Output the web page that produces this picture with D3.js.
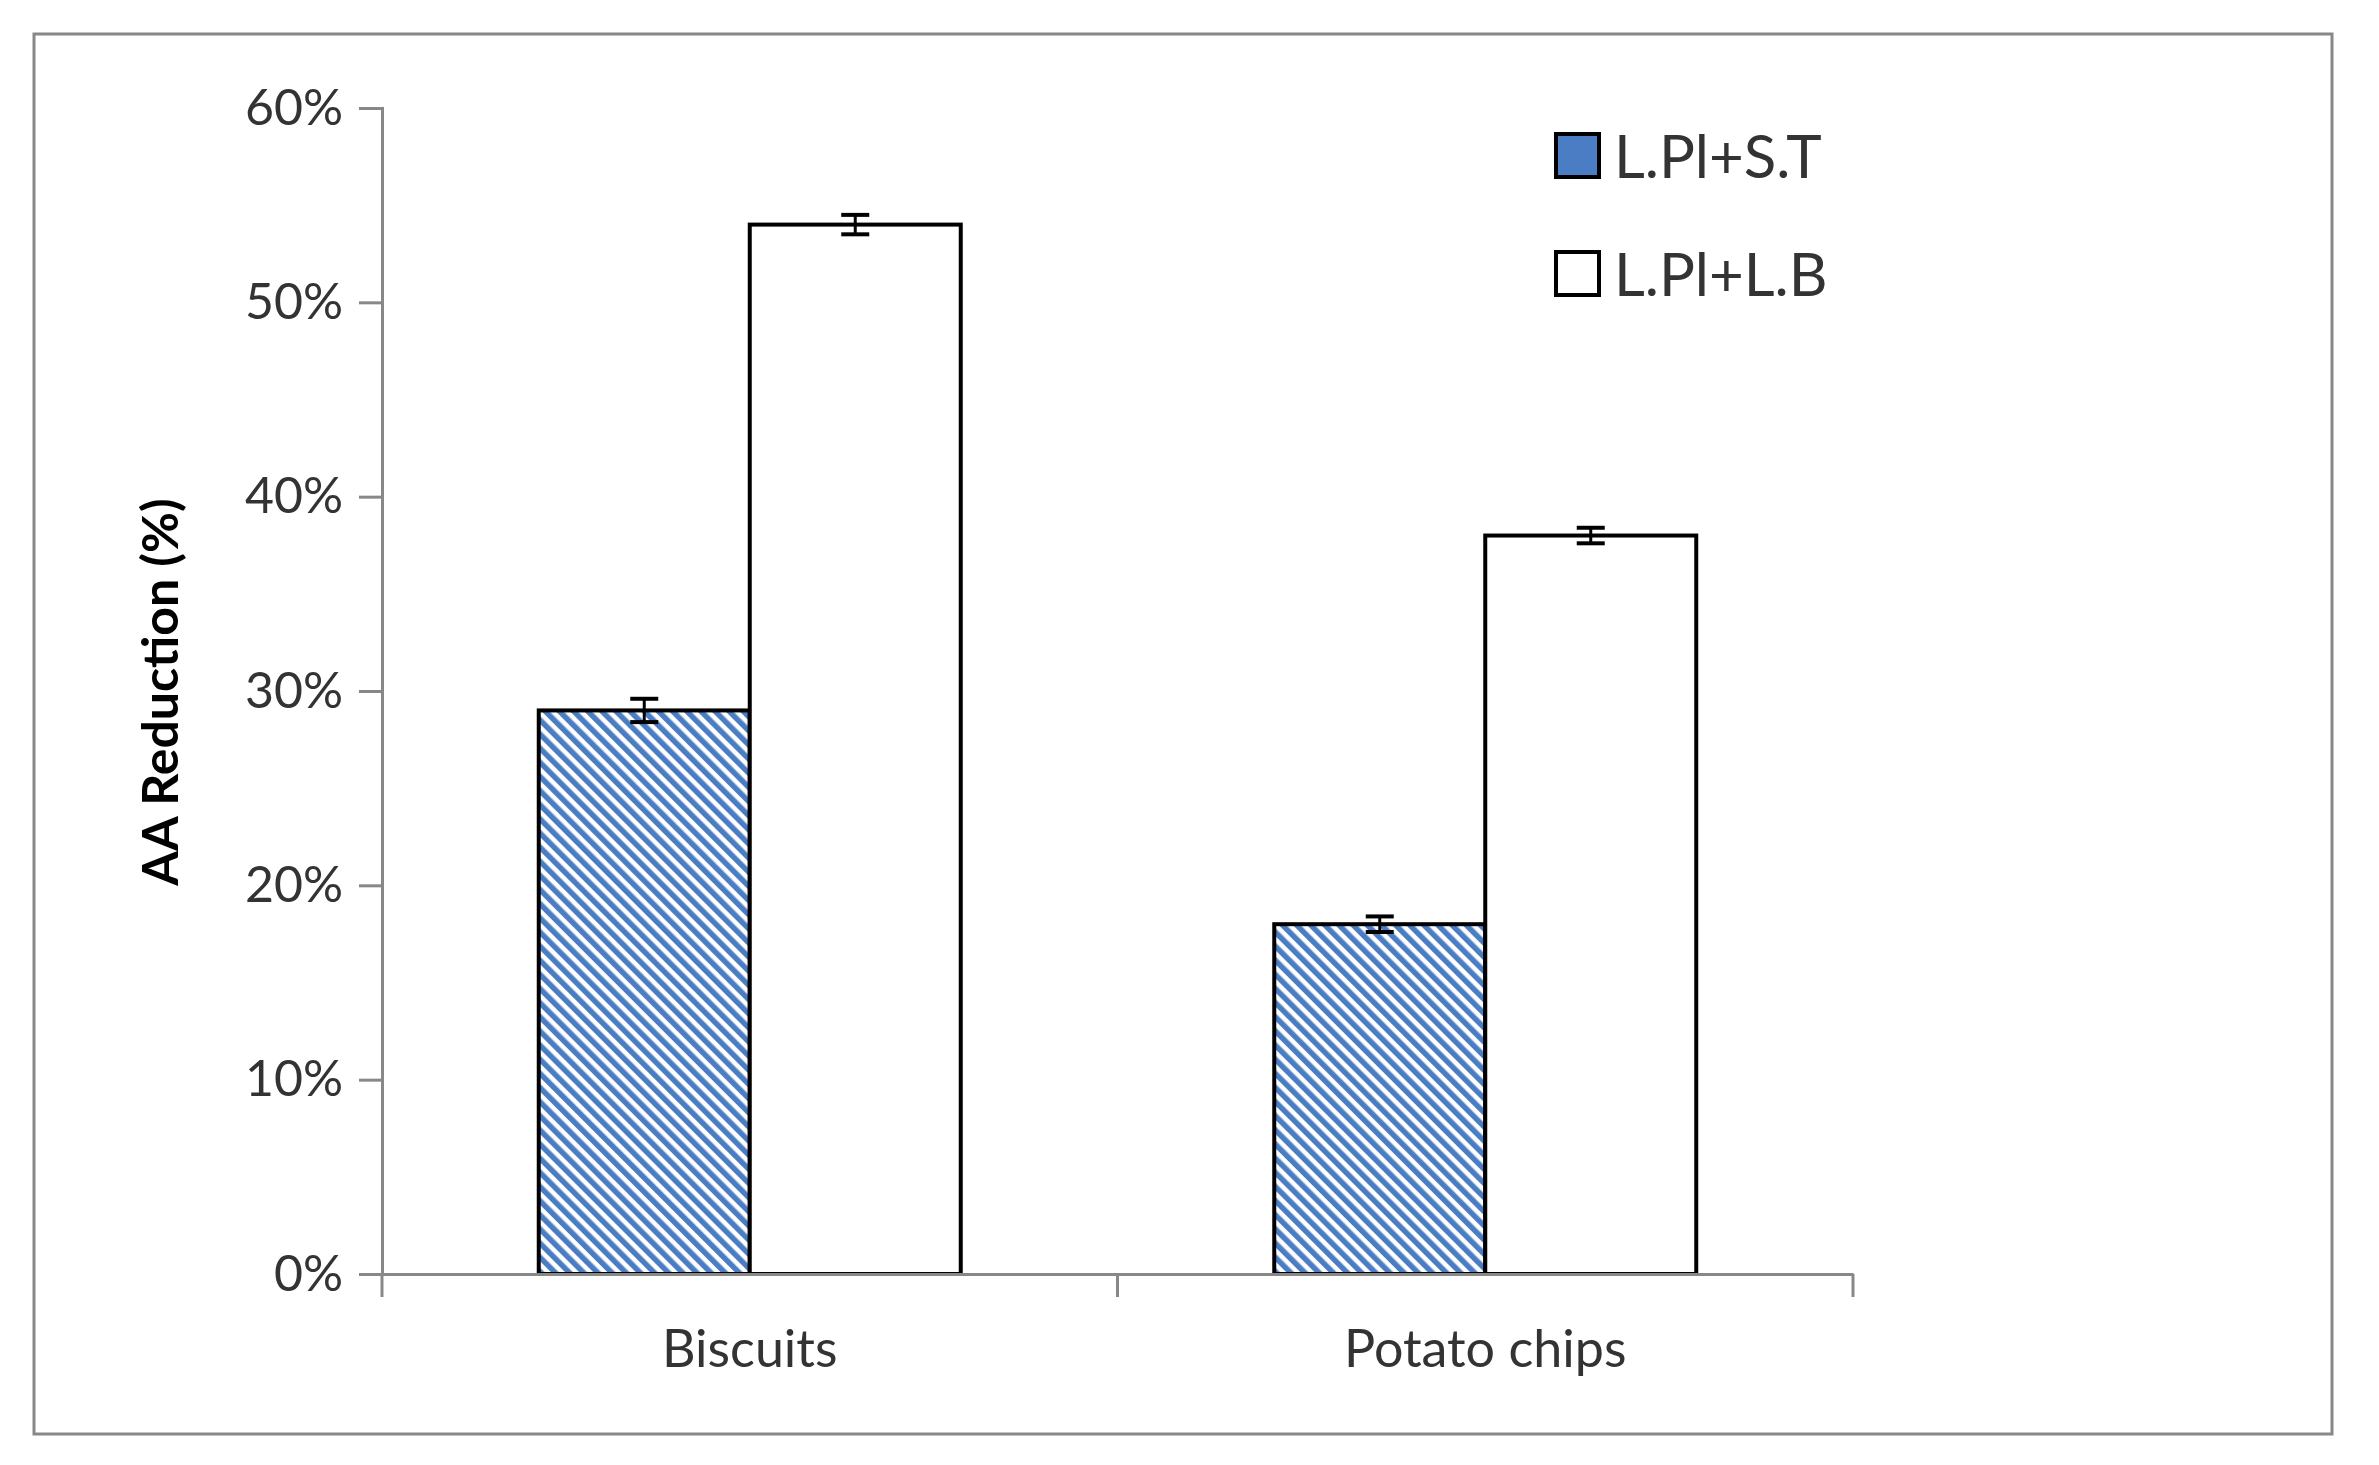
<!DOCTYPE html>
<html><head><meta charset="utf-8">
<script src="https://cdn.jsdelivr.net/npm/d3@7"></script>
<style>body{margin:0;background:#fff}text{font-family:Lato,"Open Sans",sans-serif}</style>
</head><body>
<svg id="c" width="2379" height="1465"></svg>
<script>
const categories = ["Biscuits", "Potato chips"];
const seriesNames = ["L.Pl+S.T", "L.Pl+L.B"];
const valuesST = [29, 18];
const valuesLB = [54, 38];
const errST = [0.6, 0.4];
const errLB = [0.5, 0.4];
const yTicks = [0, 10, 20, 30, 40, 50, 60];

const svg = d3.select("#c");
const defs = svg.append("defs");
const pat = defs.append("pattern").attr("id","hatch").attr("patternUnits","userSpaceOnUse")
  .attr("width",10).attr("height",10).attr("patternTransform","rotate(-45)");
pat.append("rect").attr("width",10).attr("height",10).attr("fill","#fff");
pat.append("rect").attr("width",5.5).attr("height",10).attr("fill","#4a7dc4");

svg.append("rect").attr("x",34).attr("y",34).attr("width",2298).attr("height",1400)
  .attr("fill","#fff").attr("stroke","#888").attr("stroke-width",3);

const x = d3.scaleBand().domain(categories).range([382,1853]);
const y = d3.scaleLinear().domain([0,60]).range([1274,108]);
const barW = 211;

const g = svg.append("g");
const series = [
  {name:seriesNames[0], vals:valuesST, err:errST, fill:"url(#hatch)", off:-barW},
  {name:seriesNames[1], vals:valuesLB, err:errLB, fill:"#fff", off:0}
];
series.forEach(s=>{
  categories.forEach((c,i)=>{
    const cx = x(c)+x.bandwidth()/2;
    g.append("rect").attr("x",cx+s.off).attr("y",y(s.vals[i])).attr("width",barW)
      .attr("height",y(0)-y(s.vals[i])).attr("fill",s.fill).attr("stroke","#000").attr("stroke-width",4);
  });
});
series.forEach(s=>{
  categories.forEach((c,i)=>{
    const ex = x(c)+x.bandwidth()/2+s.off+barW/2;
    const t=y(s.vals[i]+s.err[i]), b=y(s.vals[i]-s.err[i]);
    g.append("line").attr("x1",ex).attr("x2",ex).attr("y1",t).attr("y2",b).attr("stroke","#000").attr("stroke-width",3);
    [t,b].forEach(v=>g.append("line").attr("x1",ex-14).attr("x2",ex+14).attr("y1",v).attr("y2",v).attr("stroke","#000").attr("stroke-width",4));
  });
});

const ya = svg.append("g").attr("transform","translate(382,0)")
  .call(d3.axisLeft(y).tickValues(yTicks).tickFormat(d=>d+"%").tickSize(23).tickPadding(16));
ya.select(".domain").attr("stroke","#888").attr("stroke-width",3);
ya.selectAll(".tick line").attr("stroke","#888").attr("stroke-width",3);
ya.selectAll(".tick text").attr("font-size",50).attr("fill","#333");

const xa = svg.append("g").attr("transform","translate(0,1274)")
  .call(d3.axisBottom(x).tickSize(0).tickPadding(56));
xa.select(".domain").attr("stroke","#888").attr("stroke-width",3);
xa.selectAll(".tick text").attr("font-size",52).attr("fill","#333");
[...categories.map(c=>x(c)), 1853].forEach(v=>svg.append("line").attr("x1",v).attr("x2",v)
  .attr("y1",1274).attr("y2",1297).attr("stroke","#888").attr("stroke-width",3));

svg.append("text").attr("transform","translate(178,692) rotate(-90)").attr("text-anchor","middle")
  .attr("font-size",50).attr("font-weight","bold").attr("fill","#000").text("AA Reduction (%)");

const lg = svg.append("g");
[{fill:"#4a7dc4",y:134},{fill:"#fff",y:252}].forEach((d,i)=>{
  lg.append("rect").attr("x",1556).attr("y",d.y).attr("width",43).attr("height",43)
    .attr("fill",d.fill).attr("stroke","#000").attr("stroke-width",4);
  lg.append("text").attr("x",1614).attr("y",d.y+44).attr("font-size",60).attr("fill","#333").text(seriesNames[i]);
});
</script>
</body></html>
